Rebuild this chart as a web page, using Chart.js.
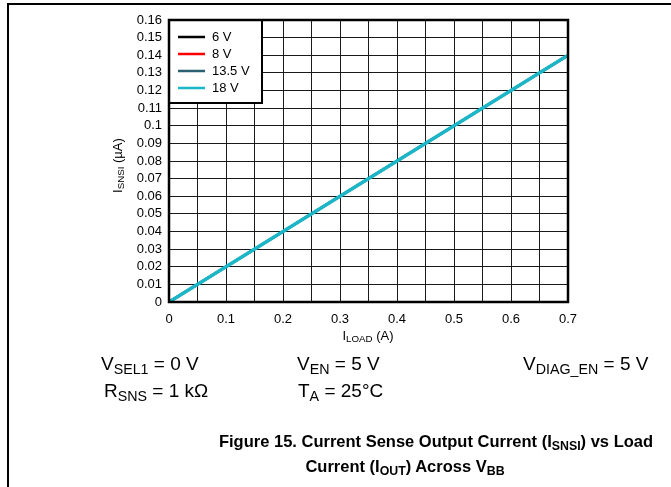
<!DOCTYPE html>
<html>
<head>
<meta charset="utf-8">
<script src="https://cdn.jsdelivr.net/npm/chart.js@4/dist/chart.umd.min.js"></script>
<style>
  html, body { margin:0; padding:0; background:#fff; }
  body { width:671px; height:487px; position:relative; overflow:hidden; font-family:"Liberation Sans", Arial, sans-serif; color:#000; }
  #wrap { position:absolute; left:0; top:0; width:671px; height:487px; }
  .frameTop { position:absolute; left:8px; top:3px; width:663px; height:2px; background:#000; }
  .frameLeft { position:absolute; left:7px; top:3px; width:2px; height:484px; background:#000; }
  .t { position:absolute; white-space:nowrap; line-height:1; }
  .note { font-size:19px; }
  .note sub, .ax sub, .ttl sub { vertical-align:baseline; position:relative; top:0.25em; font-size:0.75em; }
  .ax { font-size:13px; }
  .ttl { font-size:16.5px; font-weight:bold; text-align:center; }
  #ytitle { transform-origin:0 0; transform:rotate(-90deg); -webkit-font-smoothing:antialiased; }
</style>
</head>
<body>
<div class="frameTop"></div>
<div class="frameLeft"></div>
<div id="wrap"><canvas id="c" width="671" height="487"></canvas></div>

<div class="t ax" id="ytitle" style="left:111px; top:193px;">I<sub>SNSI</sub> (µA)</div>
<div class="t ax" id="xtitle" style="left:368px; top:329px; transform:translateX(-50%);">I<sub>LOAD</sub> (A)</div>

<div class="t note" style="left:101px; top:354px;">V<sub>SEL1</sub> = 0 V</div>
<div class="t note" style="left:297px; top:354px;">V<sub>EN</sub> = 5 V</div>
<div class="t note" style="left:523px; top:354px;">V<sub>DIAG_EN</sub> = 5 V</div>
<div class="t note" style="left:104px; top:381px;">R<sub>SNS</sub> = 1 kΩ</div>
<div class="t note" style="left:298px; top:381px;">T<sub>A</sub> = 25°C</div>

<div class="t ttl" style="left:436px; top:433px; transform:translateX(-50%);">Figure 15. Current Sense Output Current (I<sub>SNSI</sub>) vs Load</div>
<div class="t ttl" style="left:405px; top:458px; transform:translateX(-50%);">Current (I<sub>OUT</sub>) Across V<sub>BB</sub></div>

<script>
// ---- data ----
const loadCurrent = [0, 0.1, 0.2, 0.3, 0.4, 0.5, 0.6, 0.7];
const isnsi_6V    = [0, 0.02, 0.04, 0.06, 0.08, 0.10, 0.12, 0.14];
const isnsi_8V    = [0, 0.02, 0.04, 0.06, 0.08, 0.10, 0.12, 0.14];
const isnsi_13_5V = [0, 0.02, 0.04, 0.06, 0.08, 0.10, 0.12, 0.14];
const isnsi_18V   = [0, 0.02, 0.04, 0.06, 0.08, 0.10, 0.12, 0.14];
const seriesLabels = ["6 V", "8 V", "13.5 V", "18 V"];
const xTickLabels = ["0", "0.1", "0.2", "0.3", "0.4", "0.5", "0.6", "0.7"];
const yTickLabels = ["0","0.01","0.02","0.03","0.04","0.05","0.06","0.07","0.08","0.09","0.1","0.11","0.12","0.13","0.14","0.15","0.16"];

const colors = ["#000000", "#ff0000", "#2b6070", "#1bb6c8"];
const lineWidths = [2.5, 2.5, 2.5, 3.5];
const seriesData = [isnsi_6V, isnsi_8V, isnsi_13_5V, isnsi_18V];

const FONT = "'Liberation Sans', Arial, sans-serif";

const datasets = seriesData.map((arr, i) => ({
  label: seriesLabels[i],
  data: arr.map((v, j) => ({ x: loadCurrent[j], y: v })),
  borderColor: colors[i],
  backgroundColor: colors[i],
  borderWidth: lineWidths[i],
  pointRadius: 0,
  tension: 0,
  fill: false,
  order: seriesData.length - i
}));

const frameAndLegend = {
  id: 'frameAndLegend',
  afterDatasetsDraw(chart) {
    const ctx = chart.ctx;
    const a = chart.chartArea;
    ctx.save();
    const lx = a.left, ly = a.top, lw = 93, lh = 83;
    ctx.fillStyle = '#fff';
    ctx.fillRect(lx, ly, lw, lh);
    ctx.strokeStyle = '#000';
    ctx.lineWidth = 2;
    ctx.strokeRect(lx, ly, lw, lh);
    ctx.font = "13px " + FONT;
    ctx.textBaseline = 'middle';
    ctx.textAlign = 'left';
    chart.data.datasets.forEach((ds, i) => {
      const y = ly + 17 + i * 17;
      ctx.strokeStyle = ds.borderColor;
      ctx.lineWidth = 2.5;
      ctx.beginPath();
      ctx.moveTo(lx + 9, y);
      ctx.lineTo(lx + 36, y);
      ctx.stroke();
      ctx.fillStyle = '#000';
      ctx.fillText(ds.label, lx + 43, y);
    });
    ctx.strokeStyle = '#000';
    ctx.lineWidth = 2.5;
    ctx.strokeRect(a.left, a.top, a.right - a.left, a.bottom - a.top);
    ctx.restore();
  }
};

new Chart(document.getElementById('c'), {
  type: 'line',
  data: { datasets },
  options: {
    responsive: false,
    animation: false,
    devicePixelRatio: 1,
    layout: { padding: { left: 0, top: 20, right: 103, bottom: 155 } },
    plugins: { legend: { display: false }, tooltip: { enabled: false }, title: { display: false } },
    scales: {
      x: {
        type: 'linear', min: 0, max: 0.7,
        afterFit(s) { s.height = 30; },
        afterBuildTicks(s) {
          const t = [];
          for (let i = 0; i <= 14; i++) t.push({ value: i * 0.05 });
          s.ticks = t;
        },
        ticks: {
          font: { size: 13, family: FONT }, color: '#000', padding: 10, maxRotation: 0, autoSkip: false,
          callback(v) {
            const k = Math.round(v * 20);
            return (k % 2 === 0) ? xTickLabels[k / 2] : '';
          }
        },
        grid: { color: '#1a1a1a', lineWidth: 1, drawTicks: false },
        border: { display: false }
      },
      y: {
        type: 'linear', min: 0, max: 0.16,
        afterFit(s) { s.width = 169; },
        afterBuildTicks(s) {
          s.ticks = yTickLabels.map((l, i) => ({ value: i * 0.01 }));
        },
        ticks: {
          font: { size: 13, family: FONT }, color: '#000', padding: 7, autoSkip: false,
          callback(v) { return yTickLabels[Math.round(v * 100)]; }
        },
        grid: { color: '#1a1a1a', lineWidth: 1, drawTicks: false },
        border: { display: false }
      }
    }
  },
  plugins: [frameAndLegend]
});
</script>
</body>
</html>
